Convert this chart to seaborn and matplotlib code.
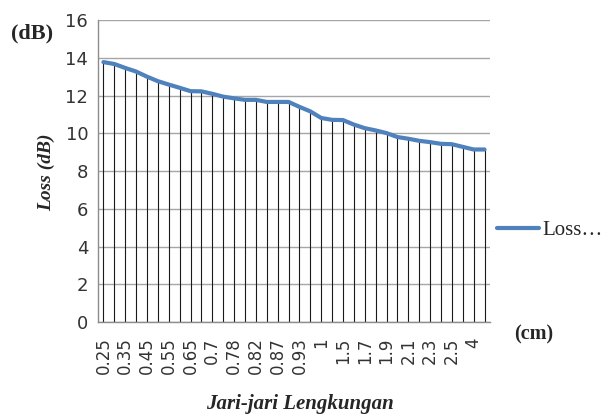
import numpy as np
import pandas as pd
import matplotlib
matplotlib.use('Agg')
import matplotlib.pyplot as plt
import seaborn as sns

# jari-jari lengkungan (cm), only every second one is labelled on the chart
radius = ['0.25', '0.3', '0.35', '0.4', '0.45', '0.5', '0.55', '0.6', '0.65', '0.68',
          '0.7', '0.75', '0.78', '0.8', '0.82', '0.85', '0.87', '0.9', '0.93', '0.95',
          '1', '1.2', '1.5', '1.6', '1.7', '1.8', '1.9', '2', '2.1', '2.2',
          '2.3', '2.4', '2.5', '3', '4', '5']
loss = [13.77, 13.67, 13.46, 13.27, 13.00, 12.76, 12.58, 12.41, 12.23, 12.22,
        12.09, 11.94, 11.85, 11.77, 11.77, 11.66, 11.66, 11.66, 11.40, 11.16,
        10.81, 10.71, 10.70, 10.46, 10.27, 10.15, 10.01, 9.80, 9.71, 9.60,
        9.53, 9.44, 9.42, 9.28, 9.14, 9.14]

df = pd.DataFrame({'pos': np.arange(len(radius)), 'radius': radius, 'loss': loss})

sns.set_theme(style="white")
plt.rcParams['font.family'] = ['Liberation Sans Narrow', 'DejaVu Sans']

fig = plt.figure(figsize=(6.15, 4.17), dpi=100)
ax = fig.add_axes([0.1593, 0.2278, 0.7967 - 0.1593, 0.952 - 0.2278])

# drop lines from each point down to the axis
ax.vlines(df['pos'], 0, df['loss'], color='#1a1a1a', lw=0.8, zorder=2)
sns.lineplot(data=df, x='pos', y='loss', color='#4F81BD', lw=3, ax=ax,
             label='Loss…', zorder=3)

ax.set_xlim(-0.5, len(radius) - 0.5)
ax.set_ylim(0, 16)
ax.set_yticks(range(0, 17, 2))
ax.set_xticks(df['pos'][::2])
ax.set_xticklabels(df['radius'][::2], rotation=90, fontsize=12, color='#333333')
ax.tick_params(axis='y', labelsize=13, labelcolor='#333333', length=4,
               color='#888888', pad=3)
ax.tick_params(axis='x', length=0, pad=11)
ax.yaxis.grid(True, color='#a6a6a6', lw=1)
for s in ['top', 'right']:
    ax.spines[s].set_visible(False)
for s in ['left', 'bottom']:
    ax.spines[s].set_color('#8c8c8c')
    ax.spines[s].set_linewidth(1)

ax.set_xlabel('')
ax.set_ylabel('')
serif = ['Liberation Serif', 'DejaVu Serif']
fig.text(46 / 615, 1 - 172 / 417, 'Loss (dB)', rotation=90, ha='center', va='center',
         family=serif, weight='bold', style='italic', fontsize=14)
fig.text(300 / 615, 1 - 404 / 417, 'Jari-jari Lengkungan', ha='center', va='center',
         family=serif, weight='bold', style='italic', fontsize=15)
fig.text(32 / 615, 1 - 33 / 417, '(dB)', ha='center', va='center',
         family=serif, weight='bold', fontsize=16)
fig.text(534 / 615, 1 - 334 / 417, '(cm)', ha='center', va='center',
         family=serif, weight='bold', fontsize=14.5)

leg = ax.legend(loc='center left', bbox_to_anchor=(489 / 615, 1 - 230 / 417),
                bbox_transform=fig.transFigure, frameon=False,
                handlelength=2.0, handletextpad=0.15, borderaxespad=0,
                prop={'family': serif, 'size': 15})

fig.savefig('out.png', dpi=100)
